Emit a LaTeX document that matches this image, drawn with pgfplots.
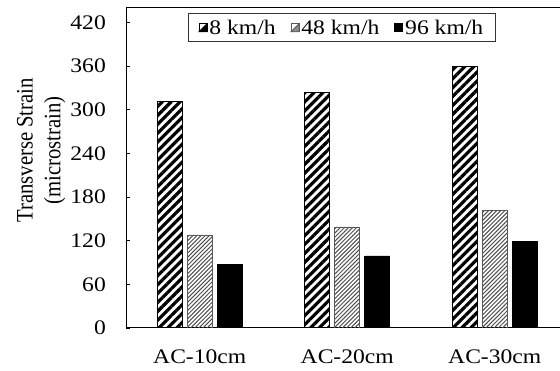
\documentclass[border=0pt]{standalone}
\usepackage{fontspec}
\setmainfont{Liberation Serif}[FakeStretch=1.14]
\newfontfamily\uprightserif{Liberation Serif}
\usepackage{graphicx}
\usepackage{pgfplots}
\pgfplotsset{compat=1.18}
\usetikzlibrary{patterns.meta}

\begin{document}
\begin{tikzpicture}[font=\fontsize{20.7bp}{24bp}\selectfont]
\useasboundingbox (0,0) rectangle (560bp,371bp);
\begin{axis}[
  at={(126bp,43bp)}, anchor=south west,
  scale only axis, width=442.5bp, height=320bp,
  xmin=-0.5, xmax=2.5, ymin=0, ymax=440,
  ytick={0,60,...,420},
  xtick={0,1,2}, xticklabels={AC-10cm,AC-20cm,AC-30cm},
  ybar, bar width=25bp,
  axis line style={line width=1bp, black},
  major tick length=4bp, tick align=inside,
  x tick style={draw=none},
  y tick style={line width=0.8bp, black},
  /pgf/number format/assume math mode=true,
  yticklabel style={inner sep=0pt, anchor=east, xshift=-20bp},
  xticklabel style={inner sep=0pt, anchor=base, yshift=-35.3bp},
  ylabel={\scalebox{1}[1.14]{\uprightserif\begin{tabular}{@{}c@{}}Transverse Strain\\[0.5bp](microstrain)\end{tabular}}},
  ylabel style={inner sep=0pt, at={(axis description cs:-0.192,0.555)}, anchor=center},
  legend style={at={(0.488,0.983)}, anchor=north, legend columns=3,
    draw=black!80, line width=0.8bp, inner xsep=10bp, inner ysep=4bp,
    /tikz/every even column/.append style={column sep=13bp}},
]
\addplot[draw=black, line width=0.8bp,
  pattern={Lines[angle=45,distance=6.3bp,line width=3.2bp]}, pattern color=black,
  bar shift=-30bp,
  legend image code/.code={
    \filldraw[fill=white, draw=black, line width=0.6bp] (0bp,-4bp) rectangle (8bp,4bp);
    \fill[fill=black] (0bp,-4bp) -- (8bp,-4bp) -- (8bp,4bp) -- cycle;}]
  coordinates {(0,311) (1,324) (2,360)};
\addlegendentry{8 km/h}
\addplot[draw=black!65, line width=0.8bp,
  pattern={Lines[angle=45,distance=2.9bp,line width=1bp]}, pattern color=black!70,
  bar shift=0bp,
  legend image code/.code={
    \filldraw[fill=white, draw=black!65, line width=0.6bp] (0bp,-4bp) rectangle (8bp,4bp);
    \fill[fill=black!45] (0bp,-4bp) -- (8bp,-4bp) -- (8bp,4bp) -- cycle;}]
  coordinates {(0,128) (1,139) (2,162)};
\addlegendentry{48 km/h}
\addplot[draw=black, fill=black, line width=0.8bp,
  bar shift=30bp,
  legend image code/.code={
    \fill[fill=black] (0bp,-4bp) rectangle (8bp,4bp);}]
  coordinates {(0,87) (1,99) (2,119)};
\addlegendentry{96 km/h}
\end{axis}
\end{tikzpicture}
\end{document}
